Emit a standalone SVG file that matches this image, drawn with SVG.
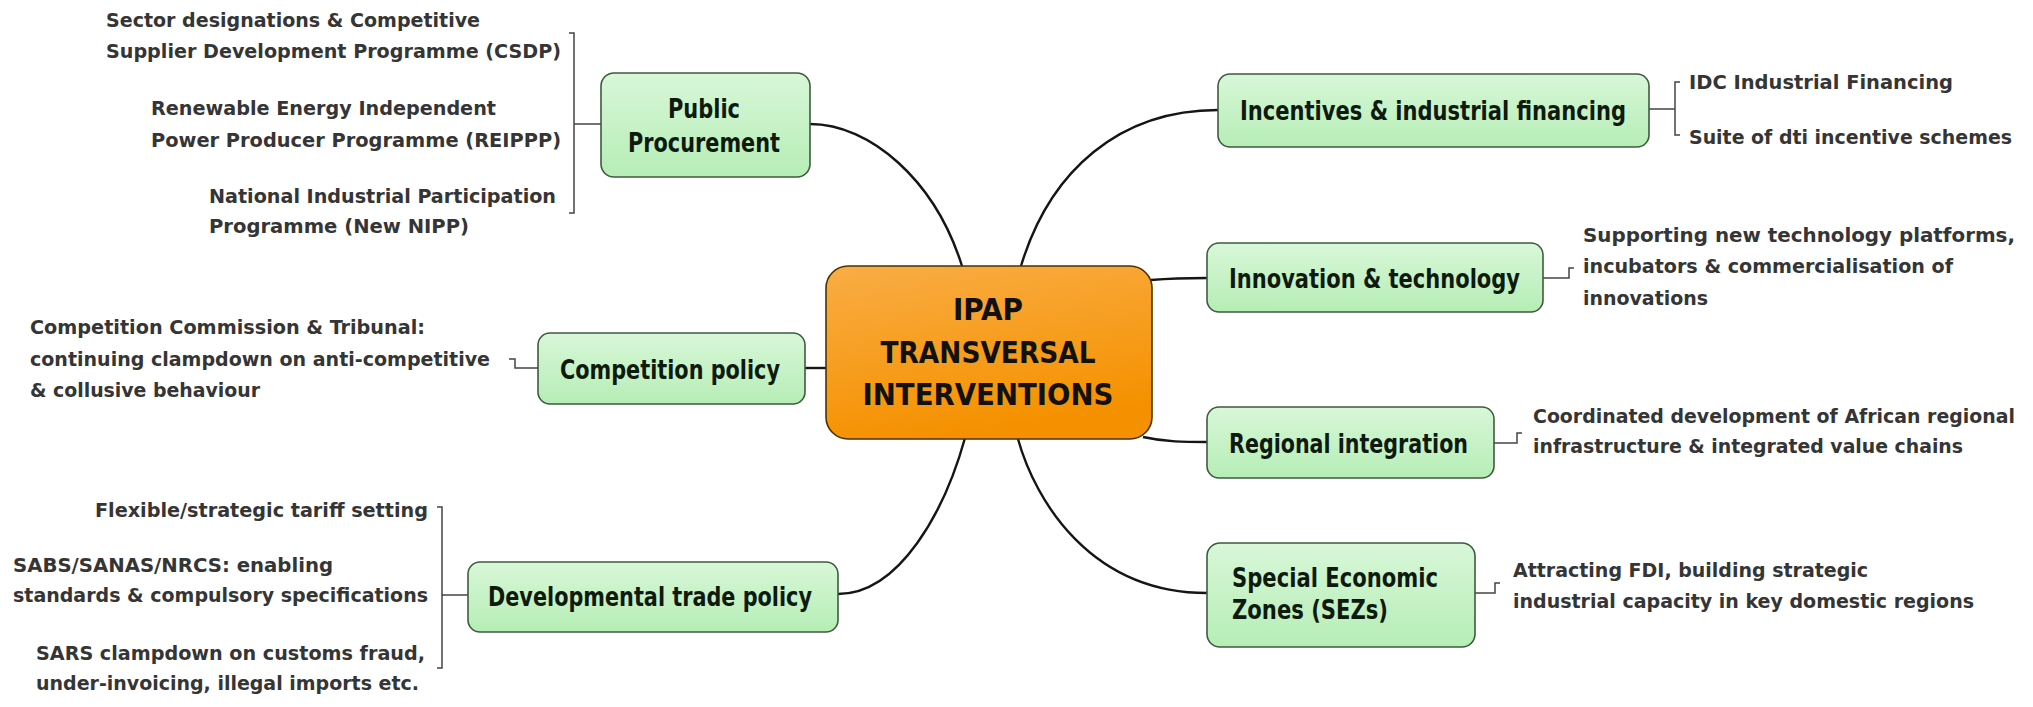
<svg xmlns="http://www.w3.org/2000/svg" width="2033" height="707" viewBox="0 0 2033 707">
<defs>
<linearGradient id="gGreen" x1="0" y1="0" x2="0" y2="1">
<stop offset="0" stop-color="#d8f7d8"/>
<stop offset="1" stop-color="#b6edb6"/>
</linearGradient>
<linearGradient id="gOrange" x1="0" y1="0" x2="0.3" y2="1">
<stop offset="0" stop-color="#f9ad45"/>
<stop offset="1" stop-color="#f59100"/>
</linearGradient>
<style>
.box{fill:url(#gGreen);stroke:#3f5a3f;stroke-width:1.6}
.core{fill:url(#gOrange);stroke:#4a3200;stroke-width:1.6}
.lbl{font-family:"DejaVu Sans Condensed","DejaVu Sans",Verdana,sans-serif;font-stretch:condensed;font-weight:bold;font-size:26px;fill:#0f1a0f}
.core-t{font-family:"DejaVu Sans Condensed","DejaVu Sans",Verdana,sans-serif;font-stretch:condensed;font-weight:bold;font-size:30px;fill:#111}
.sub{font-family:"DejaVu Sans Condensed","DejaVu Sans",Verdana,sans-serif;font-stretch:condensed;font-weight:bold;font-size:20px;fill:#353535}
.conn{fill:none;stroke:#151515;stroke-width:2.4}
.brk{fill:none;stroke:#444;stroke-width:1.5}
</style>
</defs>
<rect width="2033" height="707" fill="#ffffff"/>

<g id="connectors">
<path class="conn" d="M810,124 C870,124 935,180 962,266"/>
<path class="conn" d="M1021,266 C1050,170 1120,110 1218,110"/>
<path class="conn" d="M838,594 C900,594 945,510 965,438"/>
<path class="conn" d="M1018,439 C1035,500 1090,593 1207,593"/>
<path class="conn" d="M805,368 L826,368"/>
<path class="conn" d="M1151,280 C1175,278 1185,278 1207,278"/>
<path class="conn" d="M1143,437 C1165,442 1185,442 1207,442"/>
<path class="brk" d="M569,33 L574,33 L574,213 L569,213 M574,124 L601,124"/>
<path class="brk" d="M509,359 L515,359 L515,368 L538,368"/>
<path class="brk" d="M437,507 L442,507 L442,668 L437,668 M442,595 L468,595"/>
<path class="brk" d="M1649,109 L1675,109 M1680,82 L1675,82 L1675,135 L1680,135"/>
<path class="brk" d="M1543,278 L1569,278 L1569,268 L1574,268"/>
<path class="brk" d="M1494,443 L1517,443 L1517,433 L1522,433"/>
<path class="brk" d="M1475,593 L1495,593 L1495,583 L1500,583"/>
</g>

<g id="central">
<rect class="core" x="826" y="266" width="326" height="173" rx="22"/>
<text class="core-t" x="988" y="320" text-anchor="middle" textLength="70" lengthAdjust="spacingAndGlyphs">IPAP</text>
<text class="core-t" x="988" y="363" text-anchor="middle" textLength="215" lengthAdjust="spacingAndGlyphs">TRANSVERSAL</text>
<text class="core-t" x="988" y="405" text-anchor="middle" textLength="251" lengthAdjust="spacingAndGlyphs">INTERVENTIONS</text>
</g>

<g id="public-procurement">
<rect class="box" x="601" y="73" width="209" height="104" rx="13"/>
<text class="lbl" x="668" y="118" textLength="72" lengthAdjust="spacingAndGlyphs">Public</text>
<text class="lbl" x="628" y="152" textLength="152" lengthAdjust="spacingAndGlyphs">Procurement</text>
</g>
<g id="pp-children">
<text class="sub" x="106" y="27" textLength="374" lengthAdjust="spacingAndGlyphs">Sector designations &amp; Competitive</text>
<text class="sub" x="106" y="58" textLength="455" lengthAdjust="spacingAndGlyphs">Supplier Development Programme (CSDP)</text>
<text class="sub" x="151" y="115" textLength="345" lengthAdjust="spacingAndGlyphs">Renewable Energy Independent</text>
<text class="sub" x="151" y="147" textLength="410" lengthAdjust="spacingAndGlyphs">Power Producer Programme (REIPPP)</text>
<text class="sub" x="209" y="203" textLength="347" lengthAdjust="spacingAndGlyphs">National Industrial Participation</text>
<text class="sub" x="209" y="233" textLength="260" lengthAdjust="spacingAndGlyphs">Programme (New NIPP)</text>
</g>

<g id="competition-policy">
<rect class="box" x="538" y="333" width="267" height="71" rx="12"/>
<text class="lbl" x="560" y="379" textLength="220" lengthAdjust="spacingAndGlyphs">Competition policy</text>
</g>
<g id="cp-children">
<text class="sub" x="30" y="334" textLength="395" lengthAdjust="spacingAndGlyphs">Competition Commission &amp; Tribunal:</text>
<text class="sub" x="30" y="366" textLength="460" lengthAdjust="spacingAndGlyphs">continuing clampdown on anti-competitive</text>
<text class="sub" x="30" y="397" textLength="230" lengthAdjust="spacingAndGlyphs">&amp; collusive behaviour</text>
</g>

<g id="developmental-trade-policy">
<rect class="box" x="468" y="562" width="370" height="70" rx="12"/>
<text class="lbl" x="488" y="606" textLength="324" lengthAdjust="spacingAndGlyphs">Developmental trade policy</text>
</g>
<g id="dtp-children">
<text class="sub" x="95" y="517" textLength="333" lengthAdjust="spacingAndGlyphs">Flexible/strategic tariff setting</text>
<text class="sub" x="13" y="572" textLength="320" lengthAdjust="spacingAndGlyphs">SABS/SANAS/NRCS: enabling</text>
<text class="sub" x="13" y="602" textLength="415" lengthAdjust="spacingAndGlyphs">standards &amp; compulsory specifications</text>
<text class="sub" x="36" y="660" textLength="389" lengthAdjust="spacingAndGlyphs">SARS clampdown on customs fraud,</text>
<text class="sub" x="36" y="690" textLength="383" lengthAdjust="spacingAndGlyphs">under-invoicing, illegal imports etc.</text>
</g>

<g id="incentives">
<rect class="box" x="1218" y="74" width="431" height="73" rx="12"/>
<text class="lbl" x="1240" y="120" textLength="386" lengthAdjust="spacingAndGlyphs">Incentives &amp; industrial financing</text>
</g>
<g id="incentives-children">
<text class="sub" x="1689" y="89" textLength="264" lengthAdjust="spacingAndGlyphs">IDC Industrial Financing</text>
<text class="sub" x="1689" y="144" textLength="323" lengthAdjust="spacingAndGlyphs">Suite of dti incentive schemes</text>
</g>

<g id="innovation">
<rect class="box" x="1207" y="243" width="336" height="69" rx="12"/>
<text class="lbl" x="1229" y="288" textLength="291" lengthAdjust="spacingAndGlyphs">Innovation &amp; technology</text>
</g>
<g id="innovation-children">
<text class="sub" x="1583" y="242" textLength="432" lengthAdjust="spacingAndGlyphs">Supporting new technology platforms,</text>
<text class="sub" x="1583" y="273" textLength="370" lengthAdjust="spacingAndGlyphs">incubators &amp; commercialisation of</text>
<text class="sub" x="1583" y="305" textLength="125" lengthAdjust="spacingAndGlyphs">innovations</text>
</g>

<g id="regional">
<rect class="box" x="1207" y="407" width="287" height="71" rx="12"/>
<text class="lbl" x="1229" y="453" textLength="239" lengthAdjust="spacingAndGlyphs">Regional integration</text>
</g>
<g id="regional-children">
<text class="sub" x="1533" y="423" textLength="482" lengthAdjust="spacingAndGlyphs">Coordinated development of African regional</text>
<text class="sub" x="1533" y="453" textLength="430" lengthAdjust="spacingAndGlyphs">infrastructure &amp; integrated value chains</text>
</g>

<g id="sez">
<rect class="box" x="1207" y="543" width="268" height="104" rx="13"/>
<text class="lbl" x="1232" y="587" textLength="206" lengthAdjust="spacingAndGlyphs">Special Economic</text>
<text class="lbl" x="1232" y="619" textLength="156" lengthAdjust="spacingAndGlyphs">Zones (SEZs)</text>
</g>
<g id="sez-children">
<text class="sub" x="1513" y="577" textLength="355" lengthAdjust="spacingAndGlyphs">Attracting FDI, building strategic</text>
<text class="sub" x="1513" y="608" textLength="461" lengthAdjust="spacingAndGlyphs">industrial capacity in key domestic regions</text>
</g>
</svg>
